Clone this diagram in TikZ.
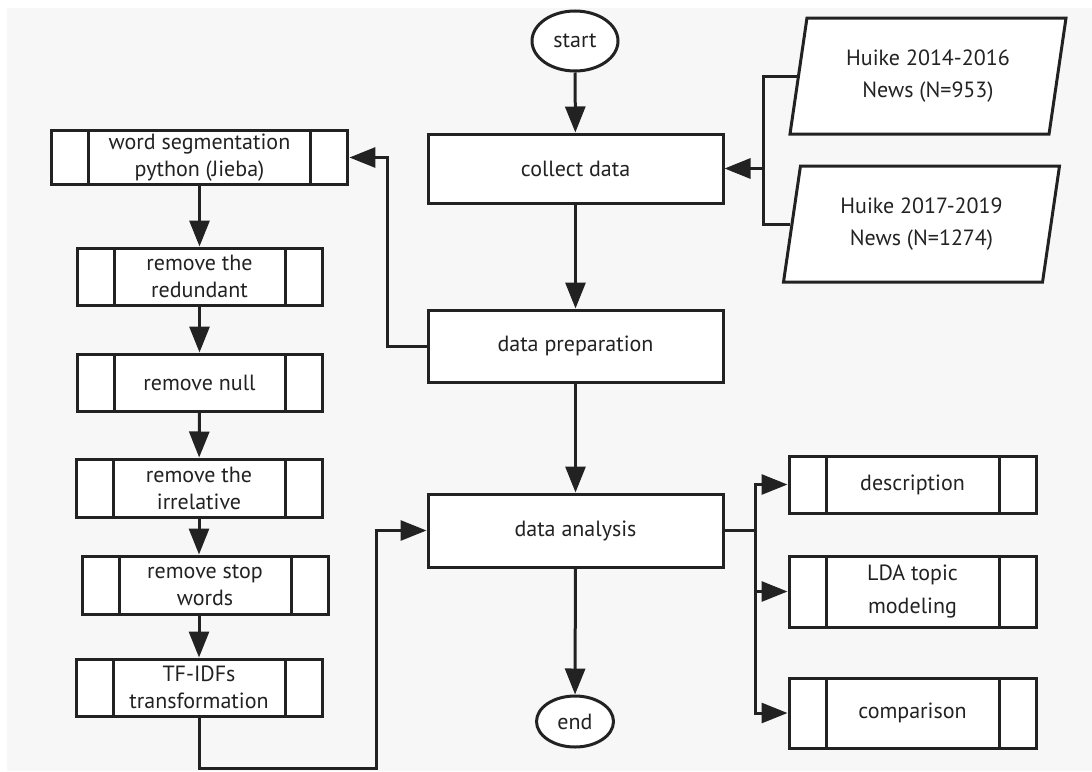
\documentclass[tikz,border=0pt]{standalone}
\usepackage{fontspec}
\setmainfont{PT Sans}
\usetikzlibrary{arrows.meta,shapes.geometric}
\definecolor{bg}{HTML}{F7F7F7}
\definecolor{ink}{HTML}{222222}
\tikzset{
  line/.style={line width=3pt, draw=ink},
  arr/.style={line, -{Triangle[length=26pt,width=20pt]}},
  txt/.style={font=\fontsize{22}{27}\selectfont, text=ink, align=center},
  term/.style={ellipse, line, fill=white, txt, inner sep=0pt},
  proc/.style={rectangle, line, fill=white, txt, minimum width=295pt},
  sub/.style={rectangle, line, fill=white, txt, inner sep=1pt,
    path picture={
      \draw[line] ([xshift=37pt]path picture bounding box.north west) -- ([xshift=37pt]path picture bounding box.south west);
      \draw[line] ([xshift=-37pt]path picture bounding box.north east) -- ([xshift=-37pt]path picture bounding box.south east);}},
  data/.style={trapezium, trapezium left angle=74, trapezium right angle=106, trapezium stretches body,
    line, fill=white, txt, minimum width=276pt, minimum height=116pt}
}
\begin{document}
\begin{tikzpicture}[x=1pt,y=-1pt]
\useasboundingbox (0,0) rectangle (1092,771);
\fill[white] (0,0) rectangle (1092,771);
\fill[bg] (7,8) rectangle (1092,771);

\node[term, minimum width=86pt, minimum height=60pt] (start) at (575,41) {start};
\node[proc, minimum height=69pt] (collect) at (575.5,168.5) {collect data};
\node[proc, minimum height=72pt] (prep) at (575.5,346) {data preparation};
\node[proc, minimum height=73pt] (analysis) at (575.5,530.5) {data analysis};
\node[term, minimum width=77pt, minimum height=51pt] (end) at (575,721.5) {end};

\node[data] (news1) at (928,76) {Huike 2014-2016\\[5pt]News (N=953)};
\node[data] (news2) at (921.5,224) {Huike 2017-2019\\[5pt]News (N=1274)};

\node[sub, line width=3.8pt, minimum width=296pt, minimum height=54pt] (seg) at (199.5,157.5) {word segmentation\\python (Jieba)};
\node[sub, minimum width=245pt, minimum height=57pt] (redund) at (199.5,276.5) {remove the\\redundant};
\node[sub, minimum width=245pt, minimum height=57pt] (null) at (199.5,382.5) {remove null};
\node[sub, minimum width=246pt, minimum height=58pt] (irrel) at (199,488) {remove the\\irrelative};
\node[sub, minimum width=246pt, minimum height=58pt] (stop) at (205,585) {remove stop\\words};
\node[sub, minimum width=246pt, minimum height=57pt] (tfidf) at (199,687.5) {TF-IDFs\\transformation};

\node[sub, minimum width=247pt, minimum height=57pt] (desc) at (912.5,484.5) {description};
\node[sub, minimum width=247pt, minimum height=71pt] (lda) at (912.5,591.5) {LDA topic\\[6pt]modeling};
\node[sub, minimum width=247pt, minimum height=70pt] (comp) at (912.5,713) {comparison};

\coordinate (join) at (763,168.5);
\coordinate (up) at (387,346);
\coordinate (bl) at (376,768);
\coordinate (fork) at (755,530.5);

\draw[arr] (start) -- (collect);
\draw[arr] (collect) -- (prep);
\draw[arr] (prep) -- (analysis);
\draw[arr] (analysis) -- (end);

\draw[line] (news1.west) -| (join) |- (news2.west);
\draw[arr] (join) -- (collect.east);

\draw[arr] (prep.west) -- (up) |- (seg.east);
\draw[arr] (seg) -- (redund);
\draw[arr] (redund) -- (null);
\draw[arr] (null) -- (irrel);
\draw[arr] (irrel.south) -- (irrel.south |- stop.north);
\draw[arr] (stop.south -| irrel.south) -- (tfidf.north);
\draw[arr] (tfidf.south) |- (bl) |- (analysis.west);

\draw[line] (analysis.east) -- (fork);
\draw[arr] (fork) |- (desc.west);
\draw[arr] (fork) |- (lda.west);
\draw[arr] (fork) |- (comp.west);
\end{tikzpicture}
\end{document}
